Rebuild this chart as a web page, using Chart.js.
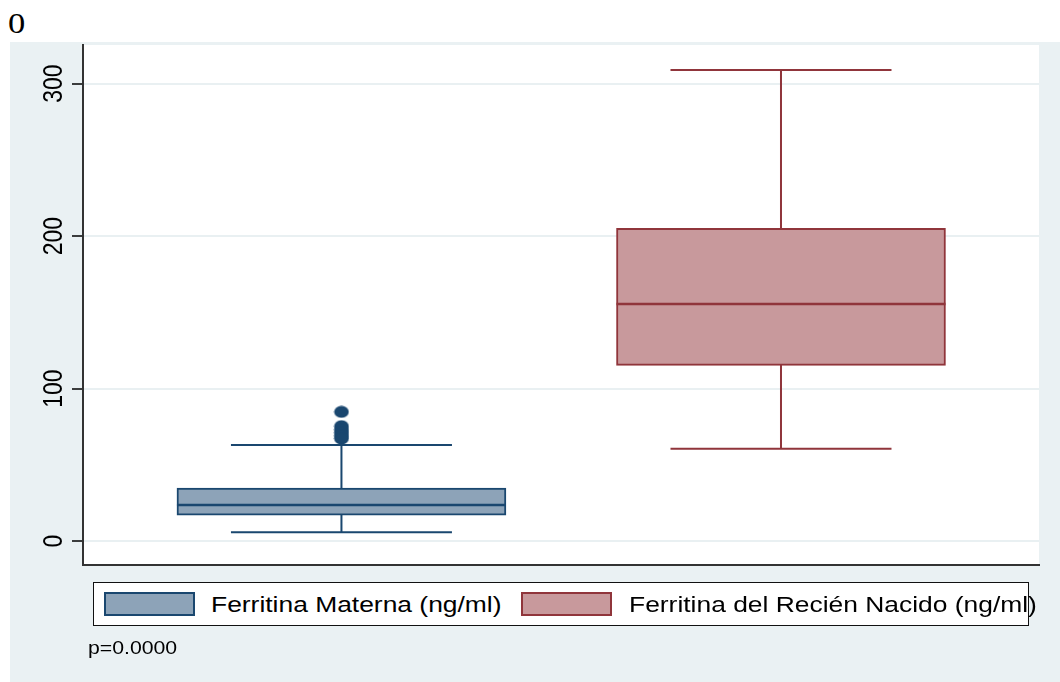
<!DOCTYPE html>
<html>
<head>
<meta charset="utf-8">
<script src="https://cdn.jsdelivr.net/npm/chart.js@4/dist/chart.umd.min.js"></script>
<style>
  html, body { margin: 0; padding: 0; background: #ffffff; }
  body { width: 1060px; height: 682px; position: relative; overflow: hidden; font-family: "Liberation Sans", Arial, sans-serif; }
  #panel { position: absolute; left: 10px; top: 42px; right: 0; bottom: 0; background: #eaf1f3; }
  #chart { position: absolute; left: 0; top: 0; }
  #corner { position: absolute; left: 8px; top: 8px; font-family: "Liberation Serif", "Times New Roman", serif; font-size: 30px; line-height: 30px; transform: scaleX(1.15); transform-origin: left center; color: #000; }
  #legend { position: absolute; left: 93px; top: 582px; width: 936px; height: 44px; box-sizing: border-box; border: 1.5px solid #111; background: #fff; }
  .swatch { position: absolute; top: 592px; width: 91px; height: 24px; box-sizing: border-box; border: 2px solid; }
  .ltext { position: absolute; top: 594px; font-size: 22px; line-height: 22px; white-space: nowrap; color: #000; transform: scaleX(1.2); transform-origin: left center; }
  #note { position: absolute; left: 88px; top: 639px; font-size: 18px; line-height: 18px; white-space: nowrap; color: #000; transform: scaleX(1.18); transform-origin: left center; }
</style>
</head>
<body>
<div id="panel"></div>
<div id="corner">0</div>
<canvas id="chart" width="1060" height="682"></canvas>
<div id="legend"></div>
<div id="sw0" class="swatch" style="left:104px"></div>
<div id="lt0" class="ltext" style="left:211px"></div>
<div id="sw1" class="swatch" style="left:521px"></div>
<div id="lt1" class="ltext" style="left:629px"></div>
<div id="note">p=0.0000</div>
<script>
// Ferritin (ng/ml): maternal vs newborn, box-plot summaries
const groups = ['Ferritina Materna (ng/ml)', 'Ferritina del Recién Nacido (ng/ml)'];
const groupPos = [1, 2];
const lowerWhisker = [5.7, 60.5];
const q1 = [17.0, 115.2];
const median = [23.6, 155.4];
const q3 = [34.7, 205.0];
const upperWhisker = [63.0, 308.9];
// points beyond the upper whisker, maternal group
const outliersMaterna = [84.7, 75.3, 73.0, 71.0, 69.0, 67.2];
const yTicks = [0, 100, 200, 300];

const lineColors = ['#1a476f', '#90353b'];
const fillColors = ['#8da3b8', '#c8999c'];

// legend
groups.forEach((g, i) => {
  const sw = document.getElementById('sw' + i);
  sw.style.background = fillColors[i];
  sw.style.borderColor = lineColors[i];
  document.getElementById('lt' + i).textContent = g;
});

// slightly wide oval marker for the outlying points
function makeDot(color) {
  const c = document.createElement('canvas');
  c.width = 16; c.height = 13;
  const g = c.getContext('2d');
  g.fillStyle = color;
  g.beginPath();
  g.ellipse(8, 6.5, 7.3, 6, 0, 0, Math.PI * 2);
  g.fill();
  return c;
}

const CAP_WIDTH = 221;

// white plotting region
const plotBackground = {
  id: 'plotBackground',
  beforeDraw(chart) {
    const { ctx, chartArea: a } = chart;
    ctx.save();
    ctx.fillStyle = '#ffffff';
    ctx.fillRect(a.left, a.top, a.right - a.left, a.bottom - a.top);
    ctx.restore();
  }
};

// whisker lines and caps, drawn under the boxes; median over them
const whiskers = {
  id: 'whiskers',
  beforeDatasetsDraw(chart) {
    const { ctx } = chart;
    const xs = chart.scales.x, ys = chart.scales.y;
    ctx.save();
    ctx.lineWidth = 2;
    groupPos.forEach((p, i) => {
      const x = xs.getPixelForValue(p);
      const yLo = ys.getPixelForValue(lowerWhisker[i]);
      const yHi = ys.getPixelForValue(upperWhisker[i]);
      ctx.strokeStyle = lineColors[i];
      ctx.beginPath();
      ctx.moveTo(x, yLo); ctx.lineTo(x, yHi);
      ctx.moveTo(x - CAP_WIDTH / 2, yLo); ctx.lineTo(x + CAP_WIDTH / 2, yLo);
      ctx.moveTo(x - CAP_WIDTH / 2, yHi); ctx.lineTo(x + CAP_WIDTH / 2, yHi);
      ctx.stroke();
    });
    ctx.restore();
  },
  afterDatasetDraw(chart, args) {
    if (args.index !== 0) return;
    const { ctx } = chart;
    const ys = chart.scales.y;
    const bars = chart.getDatasetMeta(0).data;
    ctx.save();
    ctx.lineWidth = 2.5;
    bars.forEach((bar, i) => {
      const y = ys.getPixelForValue(median[i]);
      ctx.strokeStyle = lineColors[i];
      ctx.beginPath();
      ctx.moveTo(bar.x - bar.width / 2, y);
      ctx.lineTo(bar.x + bar.width / 2, y);
      ctx.stroke();
    });
    ctx.restore();
  }
};

// vertical value labels on the y axis
const yLabels = {
  id: 'yLabels',
  afterDraw(chart) {
    const { ctx } = chart;
    const ys = chart.scales.y;
    ctx.save();
    ctx.fillStyle = '#000';
    ctx.font = '23px "Liberation Sans", Arial, sans-serif';
    ctx.textAlign = 'center';
    ctx.textBaseline = 'middle';
    ys.ticks.forEach(t => {
      const y = ys.getPixelForValue(t.value);
      ctx.save();
      ctx.translate(54, y);
      ctx.scale(1.2, 1);
      ctx.rotate(-Math.PI / 2);
      ctx.fillText(String(t.value), 0, 0);
      ctx.restore();
    });
    ctx.restore();
  }
};

new Chart(document.getElementById('chart'), {
  type: 'bar',
  data: {
    datasets: [
      {
        type: 'bar',
        label: 'caja',
        data: groupPos.map((x, i) => ({ x, y: [q1[i], q3[i]] })),
        backgroundColor: fillColors,
        borderColor: lineColors,
        borderWidth: 2,
        borderSkipped: false,
        barThickness: 329,
        order: 2
      },
      {
        type: 'scatter',
        label: 'atípicos',
        data: outliersMaterna.map(v => ({ x: groupPos[0], y: v })),
        pointStyle: makeDot(lineColors[0]),
        pointRadius: 7,
        order: 1
      }
    ]
  },
  options: {
    responsive: false,
    animation: false,
    events: [],
    layout: { padding: { left: 53, top: 45, right: 21, bottom: 117 } },
    plugins: { legend: { display: false }, tooltip: { enabled: false } },
    scales: {
      x: {
        type: 'linear',
        offset: false,
        min: 0.412,
        max: 2.587,
        ticks: { display: false },
        grid: { display: false, drawTicks: false, offset: false },
        border: { display: true, color: '#333', width: 2 },
        afterFit: s => { s.height = 0; }
      },
      y: {
        type: 'linear',
        min: -15.74,
        max: 325.3,
        afterBuildTicks: s => { s.ticks = yTicks.map(v => ({ value: v })); },
        ticks: { display: false },
        grid: { color: '#e9f0f2', lineWidth: 2, tickColor: '#000', tickLength: 11, tickWidth: 1.5 },
        border: { color: '#333', width: 2 },
        afterFit: s => { s.width = 30; }
      }
    }
  },
  plugins: [plotBackground, whiskers, yLabels]
});
</script>
</body>
</html>
